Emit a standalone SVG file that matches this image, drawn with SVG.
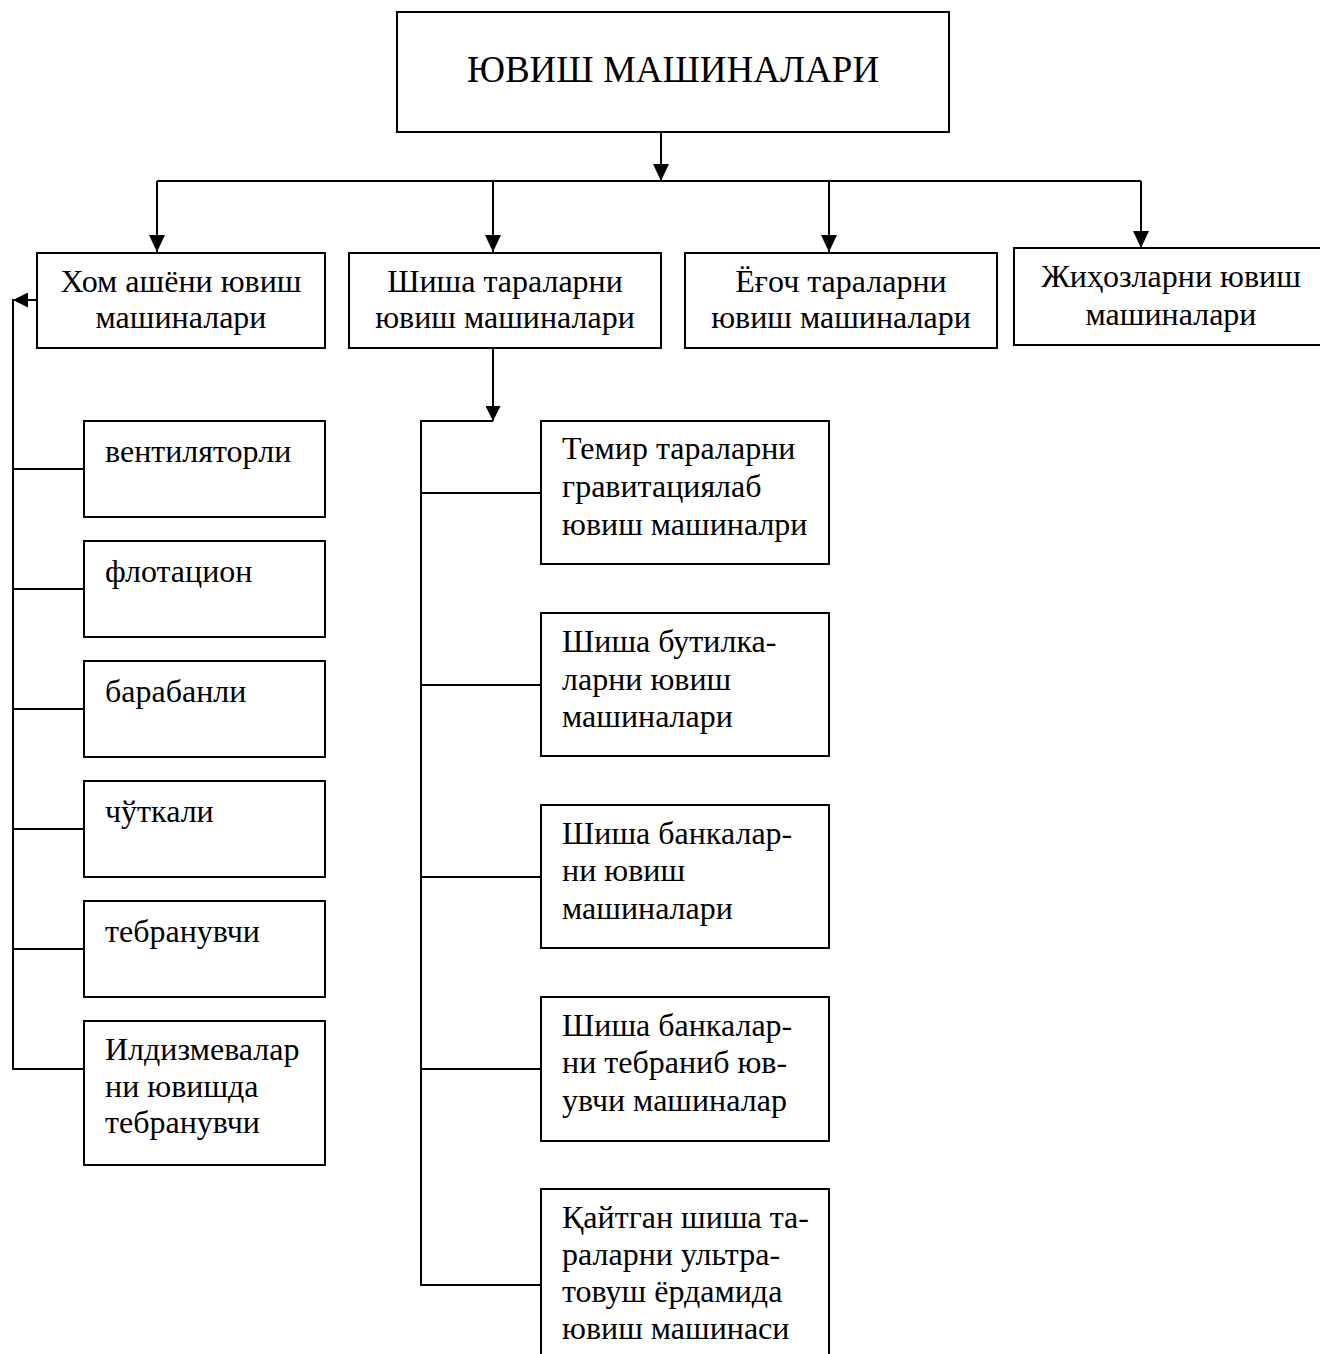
<svg xmlns="http://www.w3.org/2000/svg" width="1320" height="1354" viewBox="0 0 1320 1354">
<style>
  .box { fill: #fff; stroke: #000; stroke-width: 2; }
  .ln { fill: none; stroke: #000; stroke-width: 2; }
  text { font-family: "Liberation Serif", "Times New Roman", serif; fill: #000; font-size: 32px; }
  .c { text-anchor: middle; }
  .title { font-size: 37px; }
</style>
<defs>
  <marker id="ah" markerUnits="userSpaceOnUse" markerWidth="17" markerHeight="16" refX="17" refY="8" orient="auto">
    <path d="M0,0 L17,8 L0,16 z" fill="#000"/>
  </marker>
  <marker id="ahs" markerUnits="userSpaceOnUse" markerWidth="15" markerHeight="15" refX="15" refY="7.5" orient="auto">
    <path d="M0,0 L15,7.5 L0,15 z" fill="#000"/>
  </marker>
</defs>
<rect width="1320" height="1354" fill="#fff"/>

<g id="connectors">
  <line class="ln" x1="661" y1="132" x2="661" y2="181" marker-end="url(#ah)"/>
  <line class="ln" x1="157" y1="181" x2="1141" y2="181"/>
  <line class="ln" x1="157" y1="181" x2="157" y2="252" marker-end="url(#ah)"/>
  <line class="ln" x1="493" y1="181" x2="493" y2="252" marker-end="url(#ah)"/>
  <line class="ln" x1="829" y1="181" x2="829" y2="252" marker-end="url(#ah)"/>
  <line class="ln" x1="1141" y1="181" x2="1141" y2="248" marker-end="url(#ah)"/>
  <!-- left branch -->
  <line class="ln" x1="37" y1="300" x2="13" y2="300" marker-end="url(#ahs)"/>
  <line class="ln" x1="13" y1="299" x2="13" y2="1069"/>
  <line class="ln" x1="12" y1="469" x2="84" y2="469"/>
  <line class="ln" x1="12" y1="589" x2="84" y2="589"/>
  <line class="ln" x1="12" y1="709" x2="84" y2="709"/>
  <line class="ln" x1="12" y1="829" x2="84" y2="829"/>
  <line class="ln" x1="12" y1="949" x2="84" y2="949"/>
  <line class="ln" x1="12" y1="1069" x2="84" y2="1069"/>
  <!-- middle branch -->
  <line class="ln" x1="493" y1="348" x2="493" y2="421" marker-end="url(#ahs)"/>
  <line class="ln" x1="420" y1="421" x2="493" y2="421"/>
  <line class="ln" x1="421" y1="420" x2="421" y2="1285"/>
  <line class="ln" x1="420" y1="493" x2="541" y2="493"/>
  <line class="ln" x1="420" y1="685" x2="541" y2="685"/>
  <line class="ln" x1="420" y1="877" x2="541" y2="877"/>
  <line class="ln" x1="420" y1="1069" x2="541" y2="1069"/>
  <line class="ln" x1="420" y1="1285" x2="541" y2="1285"/>
</g>

<g id="root">
  <rect class="box" x="397" y="12" width="552" height="120"/>
  <text class="c title" x="673" y="82">ЮВИШ МАШИНАЛАРИ</text>
</g>

<g id="raw">
  <rect class="box" x="37" y="253" width="288" height="95"/>
  <text class="c" x="181" y="292">Хом ашёни ювиш</text>
  <text class="c" x="181" y="328">машиналари</text>
</g>
<g id="glass">
  <rect class="box" x="349" y="253" width="312" height="95"/>
  <text class="c" x="505" y="292">Шиша тараларни</text>
  <text class="c" x="505" y="328">ювиш машиналари</text>
</g>
<g id="wood">
  <rect class="box" x="685" y="253" width="312" height="95"/>
  <text class="c" x="841" y="292">Ёғоч тараларни</text>
  <text class="c" x="841" y="328">ювиш машиналари</text>
</g>
<g id="equip">
  <rect class="box" x="1014" y="248" width="320" height="97"/>
  <text class="c" x="1171" y="287">Жиҳозларни ювиш</text>
  <text class="c" x="1171" y="325">машиналари</text>
</g>

<g id="l1"><rect class="box" x="84" y="421" width="241" height="96"/><text x="105" y="462">вентиляторли</text></g>
<g id="l2"><rect class="box" x="84" y="541" width="241" height="96"/><text x="105" y="582">флотацион</text></g>
<g id="l3"><rect class="box" x="84" y="661" width="241" height="96"/><text x="105" y="702">барабанли</text></g>
<g id="l4"><rect class="box" x="84" y="781" width="241" height="96"/><text x="105" y="822">чўткали</text></g>
<g id="l5"><rect class="box" x="84" y="901" width="241" height="96"/><text x="105" y="942">тебранувчи</text></g>
<g id="l6"><rect class="box" x="84" y="1021" width="241" height="144"/>
  <text x="105" y="1060">Илдизмевалар</text>
  <text x="105" y="1097">ни ювишда</text>
  <text x="105" y="1133">тебранувчи</text>
</g>

<g id="m1"><rect class="box" x="541" y="421" width="288" height="143"/>
  <text x="562" y="459">Темир тараларни</text>
  <text x="562" y="497">гравитациялаб</text>
  <text x="562" y="535">ювиш машиналри</text>
</g>
<g id="m2"><rect class="box" x="541" y="613" width="288" height="143"/>
  <text x="562" y="652">Шиша бутилка-</text>
  <text x="562" y="690">ларни ювиш</text>
  <text x="562" y="727">машиналари</text>
</g>
<g id="m3"><rect class="box" x="541" y="805" width="288" height="143"/>
  <text x="562" y="844">Шиша банкалар-</text>
  <text x="562" y="881">ни ювиш</text>
  <text x="562" y="919">машиналари</text>
</g>
<g id="m4"><rect class="box" x="541" y="997" width="288" height="144"/>
  <text x="562" y="1036">Шиша банкалар-</text>
  <text x="562" y="1073">ни тебраниб юв-</text>
  <text x="562" y="1111">увчи машиналар</text>
</g>
<g id="m5"><rect class="box" x="541" y="1189" width="288" height="200"/>
  <text x="562" y="1228">Қайтган шиша та-</text>
  <text x="562" y="1265">раларни ультра-</text>
  <text x="562" y="1302">товуш ёрдамида</text>
  <text x="562" y="1339">ювиш машинаси</text>
</g>
</svg>
